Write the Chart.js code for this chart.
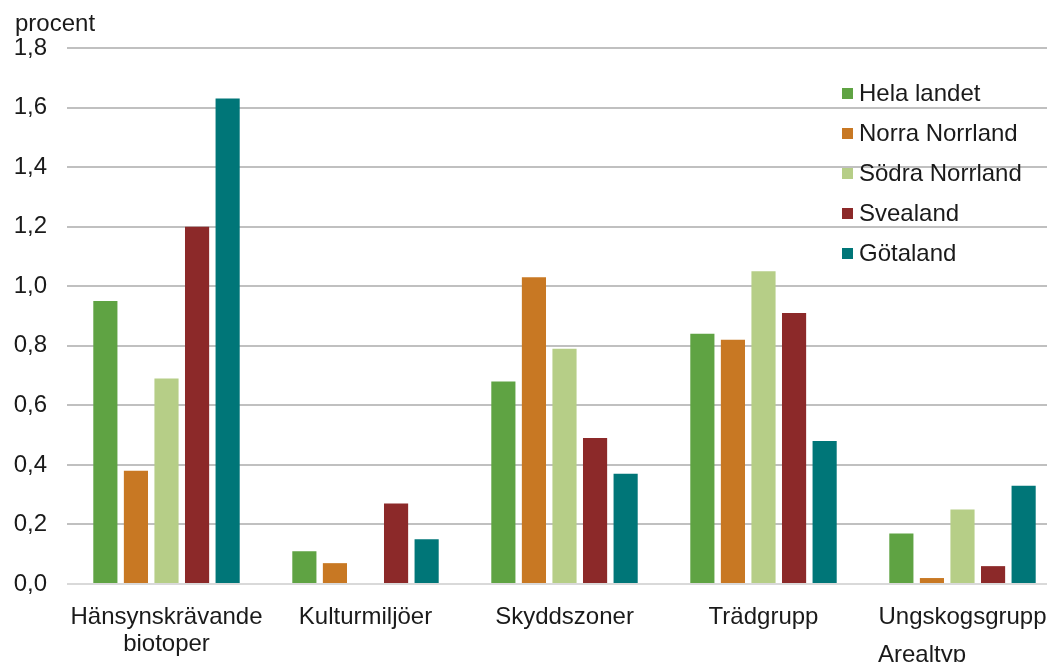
<!DOCTYPE html>
<html lang="sv">
<head>
<meta charset="utf-8">
<title>Arealtyp per landsdel</title>
<script src="https://cdn.jsdelivr.net/npm/chart.js@4.4.1/dist/chart.umd.min.js"></script>
<style>
    html, body { margin: 0; padding: 0; background: #fff; overflow: hidden; }
    #wrap { width: 1062px; height: 662px; position: relative; }
</style>
</head>
<body>
<div id="wrap"><canvas id="chart" width="1062" height="662"></canvas></div>
<script>
// Kategorier (arealtyp)
const kategorier = [
    ['Hänsynskrävande', 'biotoper'],
    'Kulturmiljöer',
    'Skyddszoner',
    'Trädgrupp',
    'Ungskogsgrupp'
];

// Andel i procent per landsdel
const helaLandet    = [0.95, 0.11, 0.68, 0.84, 0.17];
const norraNorrland = [0.38, 0.07, 1.03, 0.82, 0.02];
const sodraNorrland = [0.69, null, 0.79, 1.05, 0.25];
const svealand      = [1.20, 0.27, 0.49, 0.91, 0.06];
const gotaland      = [1.63, 0.15, 0.37, 0.48, 0.33];

const serieNamn = ['Hela landet', 'Norra Norrland', 'Södra Norrland', 'Svealand', 'Götaland'];
const serieFarg = ['#5fa343', '#c87823', '#b6ce87', '#8c2929', '#007678'];

const FONT = '"Liberation Sans", Arial, sans-serif';
const TEXT = '#1a1a1a';

// Egen legend och etiketter ("procent", "Arealtyp")
const textPlugin = {
    id: 'textPlugin',
    afterDraw(chart) {
        const ctx = chart.ctx;
        ctx.save();
        ctx.fillStyle = TEXT;
        ctx.font = '24px ' + FONT;
        ctx.textAlign = 'left';
        ctx.textBaseline = 'middle';
        ctx.fillText('procent', 15, 24);

        ctx.textBaseline = 'alphabetic';
        ctx.fillText('Arealtyp', 878, 662);

        // legend
        ctx.textBaseline = 'middle';
        chart.data.datasets.forEach((ds, i) => {
            const y = 94 + i * 40;
            ctx.fillStyle = ds.backgroundColor;
            ctx.fillRect(842, y - 6, 11, 11);
            ctx.fillStyle = TEXT;
            ctx.fillText(ds.label, 859, y);
        });
        ctx.restore();
    }
};

const serier = [helaLandet, norraNorrland, sodraNorrland, svealand, gotaland];

new Chart(document.getElementById('chart'), {
    type: 'bar',
    data: {
        labels: kategorier,
        datasets: serier.map((data, i) => ({
            label: serieNamn[i],
            data: data,
            backgroundColor: serieFarg[i],
            borderWidth: 0,
            categoryPercentage: 0.768,
            barPercentage: 0.79
        }))
    },
    options: {
        responsive: false,
        animation: false,
        layout: { padding: { top: 48, right: 0, left: 0, bottom: 0 } },
        plugins: {
            legend: { display: false },
            tooltip: { enabled: false }
        },
        scales: {
            x: {
                grid: { display: false },
                border: { display: false },
                ticks: {
                    color: TEXT,
                    font: { family: FONT, size: 24, lineHeight: 1.12 },
                    padding: 12,
                    maxRotation: 0,
                    autoSkip: false
                },
                afterFit(scale) { scale.height = 78; }
            },
            y: {
                min: 0,
                max: 1.8,
                border: { display: false },
                grid: {
                    drawTicks: false,
                    color: c => c.tick && c.tick.value === 0 ? '#d9d9d9' : '#c0c0c0',
                    lineWidth: 2
                },
                ticks: {
                    stepSize: 0.2,
                    padding: 20,
                    color: TEXT,
                    font: { family: FONT, size: 24 },
                    callback: v => v.toFixed(1).replace('.', ',')
                },
                afterFit(scale) { scale.width = 67; }
            }
        }
    },
    plugins: [textPlugin]
});
</script>
</body>
</html>
